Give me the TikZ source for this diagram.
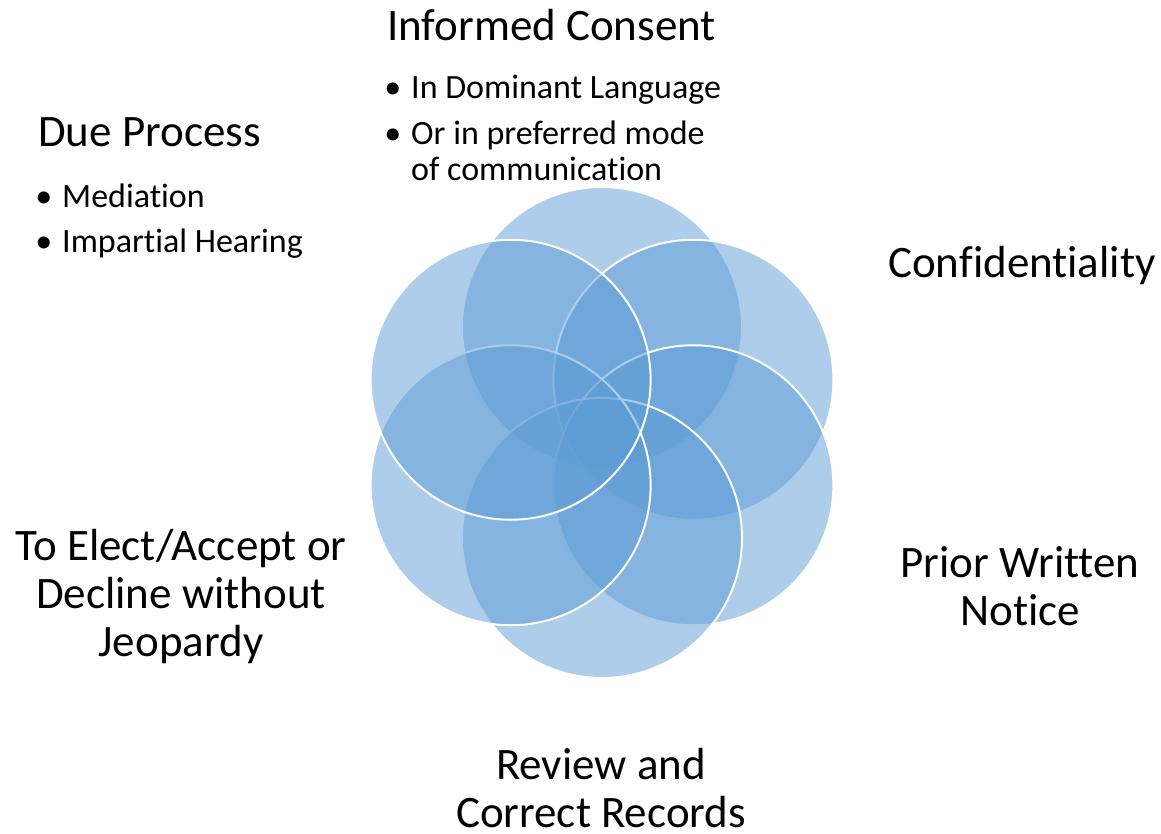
\documentclass[tikz,border=0pt]{standalone}
\usepackage{fontspec}
\setmainfont{Carlito}[Ligatures=NoCommon]
\usetikzlibrary{calc}
\definecolor{petalblue}{RGB}{91,155,213}

\begin{document}
\begin{tikzpicture}[x=1pt,y=-1pt,
  petal/.style={circle,draw=white,line width=2pt,fill=petalblue,fill opacity=0.5,
    minimum size=280pt,inner sep=0pt},
  head/.style={font=\fontsize{45}{48}\selectfont,inner sep=0pt,align=center,anchor=base},
  item/.style={font=\fontsize{34}{36}\selectfont,inner sep=0pt,align=left,anchor=base west}]
  \useasboundingbox (0,0) rectangle (1161,834);

  % six petals, clockwise from the top
  \coordinate (ctr) at (602,432.5);
  \foreach \a [count=\i] in {-90,-30,...,210}
    \node[petal] (petal\i) at ($(ctr)+(\a:105.5)$) {};

  % headings (multi-line ones sit on their last baseline)
  \node[head,anchor=base west] (consent) at (387,41) {Informed Consent};
  \node[head,anchor=base west] (due) at (38,147) {Due Process};
  \node[head] (confid) at (1022,277) {Confidentiality};
  \node[head] (prior) at (1020,625) {Prior Written\\Notice};
  \node[head] (review) at (601,827) {Review and\\Correct Records};
  \node[head] (elect) at (181,656) {To Elect/Accept or\\Decline without\\Jeopardy};

  % bullet points
  \node[item] (consent1) at (411,99) {\llap{•\hspace{10pt}}In Dominant Language};
  \node[item] (consent2) at (411,181) {\llap{•\hspace{10pt}}Or in preferred mode\\of communication};
  \node[item] (due1) at (62,208) {\llap{•\hspace{10pt}}Mediation};
  \node[item] (due2) at (62,253) {\llap{•\hspace{10pt}}Impartial Hearing};
\end{tikzpicture}
\end{document}
